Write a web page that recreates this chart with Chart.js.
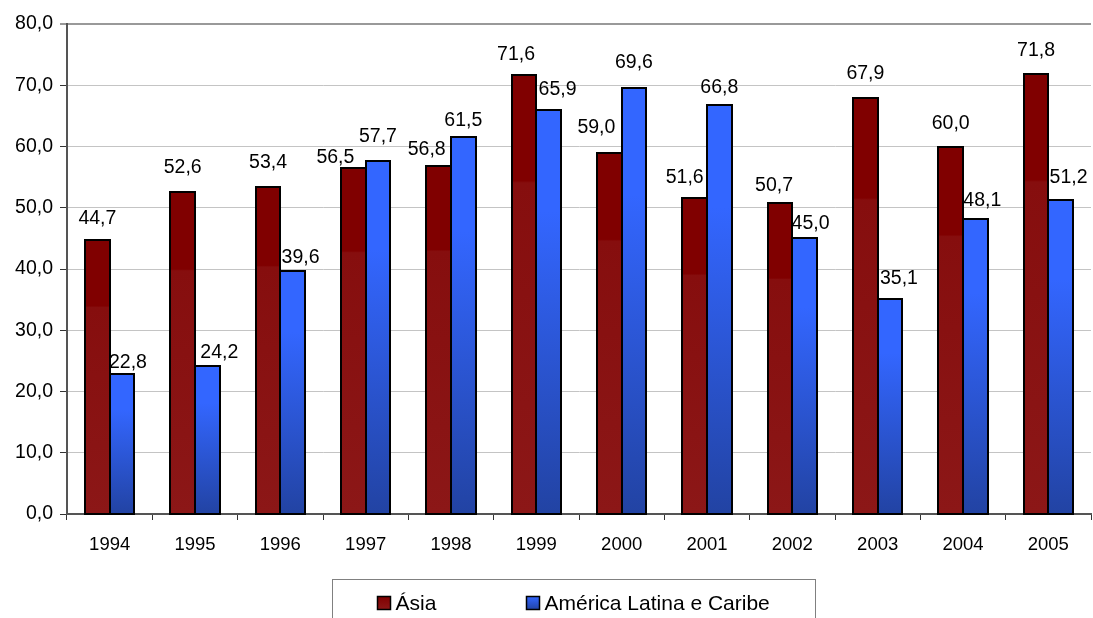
<!DOCTYPE html>
<html>
<head>
<meta charset="utf-8">
<title>Ásia e América Latina e Caribe, 1994–2005</title>
<script src="https://cdn.jsdelivr.net/npm/chart.js@4/dist/chart.umd.min.js"></script>
<style>
  html, body { margin: 0; padding: 0; background: #fff; }
  #wrap { width: 1093px; height: 618px; position: relative; }
</style>
</head>
<body>
<div id="wrap"><canvas id="chart" width="1093" height="618"></canvas></div>
<script>
// Categories and series values
const years = ['1994', '1995', '1996', '1997', '1998', '1999', '2000', '2001', '2002', '2003', '2004', '2005'];
const asia = [44.7, 52.6, 53.4, 56.5, 56.8, 71.6, 59.0, 51.6, 50.7, 67.9, 60.0, 71.8];
const americaLatina = [22.8, 24.2, 39.6, 57.7, 61.5, 65.9, 69.6, 66.8, 45.0, 35.1, 48.1, 51.2];
const seriesNames = ['Ásia', 'América Latina e Caribe'];

// Axis range
const yMin = 0;
const yMax = 80;
const yStep = 10;

// Small per-label nudges (px) so crowded value labels don't collide
const asiaLabelNudge = [[0, 0], [0, -2], [0, -2], [-18, 12], [-12, 6], [-8, 1], [-13, -3], [-10, 2], [-6, 4], [0, -2], [0, -1], [0, -2]];
const latinaLabelNudge = [[6, 10], [12, 9], [8, 8], [0, -2], [0, 5], [9, 1], [0, -3], [0, 5], [6, 7], [9, 2], [7, 3], [8, -1]];

const FONT = "'Liberation Sans', Arial, sans-serif";
const fmt = v => v.toFixed(1).replace('.', ',');

Chart.defaults.font.family = FONT;
Chart.defaults.font.size = 19;
Chart.defaults.color = '#000';

// Vertical gradient per bar, from the bar's top down to the base line
function barGradient(stops) {
  return (ctx) => {
    const chart = ctx.chart;
    if (ctx.type !== 'data' || !chart.scales || !chart.scales.y) return stops[0][1];
    const ys = chart.scales.y;
    const top = ys.getPixelForValue(ctx.raw);
    const base = ys.getPixelForValue(0);
    if (!isFinite(top) || !isFinite(base) || base - top < 1) return stops[0][1];
    const g = chart.ctx.createLinearGradient(0, top, 0, base);
    stops.forEach(([o, c]) => g.addColorStop(o, c));
    return g;
  };
}
const redStops = [[0, '#800000'], [0.24, '#800000'], [0.245, '#860E0E'], [1, '#8C1717']];
const blueStops = [[0, '#3366FF'], [0.25, '#3366FF'], [1, '#2243A3']];

// Value labels above each bar
const valueLabels = {
  id: 'valueLabels',
  afterDatasetsDraw(chart) {
    const c = chart.ctx;
    const nudges = [asiaLabelNudge, latinaLabelNudge];
    c.save();
    c.font = '19.5px ' + FONT;
    c.fillStyle = '#000';
    c.textAlign = 'center';
    c.textBaseline = 'middle';
    chart.data.datasets.forEach((ds, di) => {
      const meta = chart.getDatasetMeta(di);
      meta.data.forEach((el, i) => {
        const n = nudges[di][i] || [0, 0];
        c.fillText(fmt(ds.data[i]), el.x + n[0], el.y - 22 + n[1]);
      });
    });
    c.restore();
  }
};

// Boxed legend below the x axis
const boxedLegend = {
  id: 'boxedLegend',
  afterDraw(chart) {
    const c = chart.ctx;
    const area = chart.chartArea;
    const mid = (area.left + area.right) / 2 - 6;
    const boxW = 483, boxTop = 579;
    const left = Math.round(mid - boxW / 2) + 0.5;
    c.save();
    c.strokeStyle = '#808080';
    c.lineWidth = 1;
    c.strokeRect(left, boxTop + 0.5, boxW, 60);
    const items = [
      { x: left + 45, stops: redStops },
      { x: left + 194, stops: blueStops }
    ];
    const cy = 603;
    c.font = '21px ' + FONT;
    c.textBaseline = 'middle';
    c.textAlign = 'left';
    items.forEach((it, i) => {
      const s = 13;
      const g = c.createLinearGradient(0, cy - s / 2, 0, cy + s / 2);
      g.addColorStop(0, it.stops[0][1]);
      g.addColorStop(1, it.stops[it.stops.length - 1][1]);
      c.fillStyle = g;
      c.fillRect(it.x, cy - s / 2, s, s);
      c.strokeStyle = '#000';
      c.lineWidth = 1.5;
      c.strokeRect(it.x, cy - s / 2, s, s);
      c.fillStyle = '#000';
      c.fillText(chart.data.datasets[i].label, it.x + s + 5, cy + 1);
    });
    c.restore();
  }
};

// Solid black outline around every bar
const barOutline = {
  id: 'barOutline',
  afterDatasetsDraw(chart) {
    const c = chart.ctx;
    c.save();
    c.strokeStyle = '#000';
    c.lineWidth = 2;
    chart.data.datasets.forEach((ds, di) => {
      chart.getDatasetMeta(di).data.forEach((el) => {
        const p = el.getProps(['x', 'y', 'base', 'width'], true);
        const l = Math.round(p.x - p.width / 2);
        const r = Math.round(p.x + p.width / 2);
        const t = Math.round(p.y);
        const b = Math.round(p.base);
        c.strokeRect(l, t, r - l, b - t);
      });
    });
    c.restore();
  }
};

new Chart(document.getElementById('chart'), {
  type: 'bar',
  data: {
    labels: years,
    datasets: [
      {
        label: seriesNames[0],
        data: asia,
        backgroundColor: barGradient(redStops),
        borderWidth: 0,
        categoryPercentage: 0.575,
        barPercentage: 1.0
      },
      {
        label: seriesNames[1],
        data: americaLatina,
        backgroundColor: barGradient(blueStops),
        borderWidth: 0,
        categoryPercentage: 0.575,
        barPercentage: 1.0
      }
    ]
  },
  options: {
    responsive: false,
    animation: false,
    layout: { padding: { top: 24, right: 2, left: 0, bottom: 0 } },
    plugins: {
      legend: { display: false },
      tooltip: { enabled: false }
    },
    scales: {
      x: {
        offset: true,
        grid: {
          offset: true,
          drawOnChartArea: false,
          drawTicks: true,
          tickLength: 6,
          tickColor: '#333',
          tickWidth: 1
        },
        border: { color: '#555', width: 2 },
        ticks: { padding: 14, font: { size: 18.5 }, maxRotation: 0 },
        afterFit(scale) { scale.height = 104; }
      },
      y: {
        min: yMin,
        max: yMax,
        grid: {
          color: (ctx) => (ctx.tick && ctx.tick.value === yMax ? '#999' : '#c4c4c4'),
          lineWidth: (ctx) => (ctx.tick && ctx.tick.value === yMax ? 2 : 1),
          tickLength: 7,
          tickColor: '#333',
          tickWidth: 1
        },
        border: { color: '#555', width: 2 },
        ticks: {
          stepSize: yStep,
          padding: 7,
          font: { size: 19.5 },
          callback: (v) => fmt(v)
        },
        afterFit(scale) { scale.width = 67; }
      }
    }
  },
  plugins: [barOutline, valueLabels, boxedLegend]
});
</script>
</body>
</html>
